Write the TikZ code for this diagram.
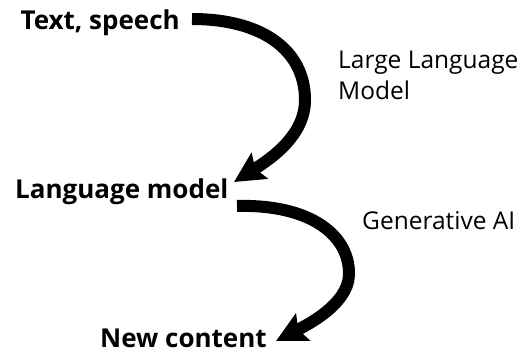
\documentclass[tikz,border=0pt]{standalone}
\usepackage{fontspec}
\setmainfont{Open Sans}
\usetikzlibrary{arrows.meta}
\begin{document}
\begin{tikzpicture}[x=1pt,y=-1pt,
  term/.style={inner sep=0pt,font=\fontsize{26}{32}\selectfont\bfseries},
  note/.style={inner sep=0pt,anchor=base west,font=\fontsize{24.5}{30}\selectfont},
  flow/.style={line width=12pt,line cap=butt,
    -{Stealth[length=30pt,width=30pt,inset=5pt]}}]
\useasboundingbox (0,0) rectangle (522,354);

% terms
\node[term,anchor=base east] (src) at (180,29) {Text, speech};
\node[term,anchor=base west] (lm)  at (15,198.5) {Language model};
\node[term,anchor=base west] (out) at (100,347) {New content};

% step labels
\node[note] (llm1) at (338,68.5) {Large Language};
\node[note] (llm2) at (338,99) {Model};
\node[note] (gen)  at (362,229) {Generative AI};

% curved arrows
\coordinate (a1) at ([shift={(12,-10)}]src.base east);
\coordinate (b1) at (234,182);
\draw[flow] (a1) .. controls (262,19) and (305,50) .. (305,100)
               .. controls (305,135) and (272,158) .. (b1);

\coordinate (a2) at (237,206);
\coordinate (b2) at (276,341);
\draw[flow] (a2) .. controls (310,204) and (350,235) .. (349,275)
               .. controls (348,305) and (305,326) .. (b2);
\end{tikzpicture}
\end{document}
